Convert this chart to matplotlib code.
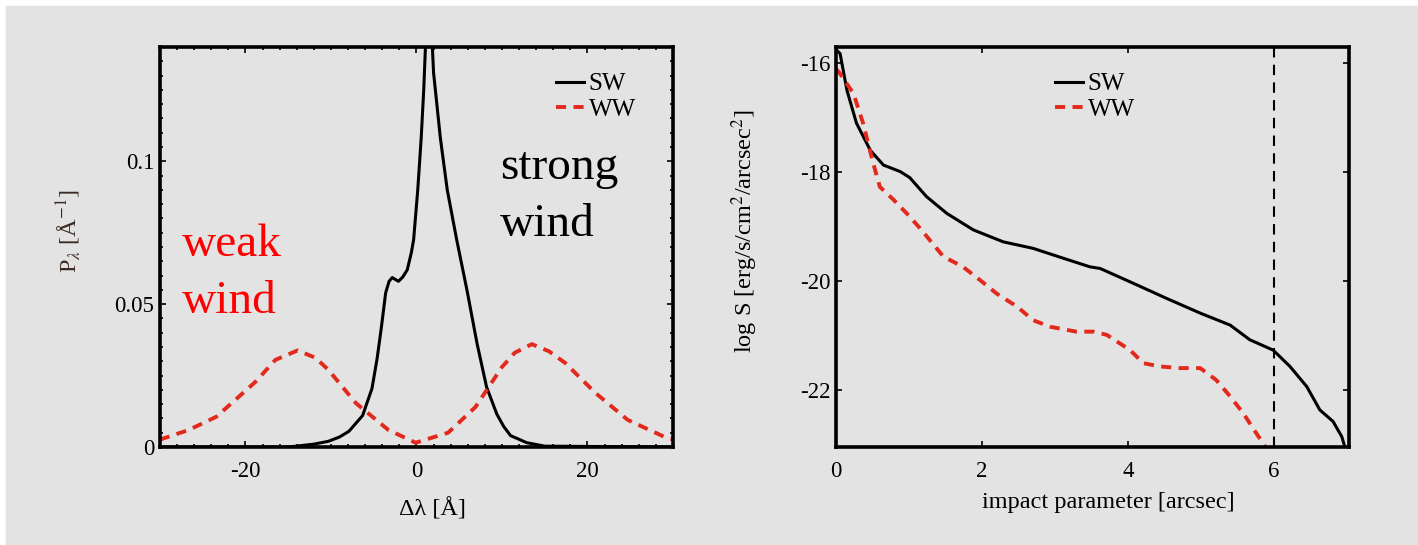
import matplotlib
matplotlib.use('Agg')
import matplotlib.pyplot as plt
from matplotlib.ticker import MultipleLocator, FormatStrFormatter

plt.rcParams['font.family'] = ['Liberation Serif', 'DejaVu Serif']
plt.rcParams['mathtext.fontset'] = 'stix'
plt.rcParams['axes.unicode_minus'] = False

RED = '#e3281c'
BG = '#e3e3e3'

# line profiles
dlam_sw = [-30, -15, -12, -10.3, -9.0, -7.9, -6.3, -5.2, -4.6, -4.1, -3.6, -3.2,
           -2.83, -2.4, -2.1, -1.6, -1.08, -0.6, -0.33, 0.15, 0.55, 0.85, 1.05,
           1.45, 1.86, 2.0, 2.8, 3.6, 4.7, 5.9, 7.1, 8.2, 9.4, 10.2, 11, 12.9,
           15, 30]
p_sw = [0, 0, 0.001, 0.002, 0.0035, 0.0055, 0.011, 0.0205, 0.031, 0.042,
        0.054, 0.058, 0.0593, 0.0585, 0.058, 0.0595, 0.062, 0.068, 0.0726,
        0.090, 0.108, 0.125, 0.14, 0.168, 0.14, 0.131, 0.108, 0.090, 0.0726,
        0.055, 0.036, 0.021, 0.0115, 0.0072, 0.004, 0.0015, 0.0003, 0]

dlam_ww = [-30, -29.6, -26.6, -23.4, -18.8, -16.5, -13.9, -11.8, -10.3, -7.1,
           -3.3, -0.1, 3.7, 6.9, 10, 11.5, 13.5, 15.5, 17.4, 20.9, 24.7, 29.4, 30]
p_ww = [0.0025, 0.003, 0.006, 0.0106, 0.0229, 0.0305, 0.0338, 0.0312, 0.027,
        0.0154, 0.006, 0.0015, 0.005, 0.014, 0.028, 0.033, 0.036, 0.0335,
        0.0294, 0.019, 0.0095, 0.003, 0.0027]

# surface brightness profiles
b_sw = [0.0, 0.055, 0.15, 0.28, 0.47, 0.65, 0.88, 1.01, 1.24, 1.52, 1.88, 2.29,
        2.70, 3.11, 3.48, 3.62, 4.07, 4.53, 4.99, 5.40, 5.67, 5.99, 6.22, 6.45,
        6.63, 6.81, 6.93, 6.97]
s_sw = [-15.75, -15.82, -16.5, -17.1, -17.6, -17.87, -17.99, -18.1, -18.45,
        -18.76, -19.06, -19.28, -19.40, -19.58, -19.74, -19.77, -20.04, -20.32,
        -20.59, -20.81, -21.08, -21.27, -21.57, -21.94, -22.37, -22.58, -22.86,
        -23.04]

b_ww = [0.0, 0.055, 0.24, 0.37, 0.51, 0.60, 0.79, 0.97, 1.15, 1.47, 1.74, 1.97,
        2.20, 2.48, 2.70, 2.93, 3.29, 3.53, 3.71, 4.03, 4.21, 4.44, 4.71, 4.99,
        5.21, 5.40, 5.58, 5.76, 5.88]
s_ww = [-16.1, -16.19, -16.56, -17.1, -17.84, -18.27, -18.51, -18.76, -19.03,
        -19.55, -19.74, -19.98, -20.23, -20.47, -20.72, -20.84, -20.93, -20.93,
        -20.99, -21.27, -21.51, -21.57, -21.60, -21.60, -21.82, -22.12, -22.43,
        -22.80, -23.04]

b_cut = 6


def style_axes(ax):
    ax.set_facecolor(BG)
    for s in ax.spines.values():
        s.set_linewidth(2.6)
    ax.tick_params(which='both', direction='in', top=True, right=True,
                   labelsize=16.5, width=1.2)
    ax.tick_params(which='major', length=4)
    ax.tick_params(which='minor', length=2)
    ax.tick_params(axis='x', which='major', pad=10)
    ax.tick_params(axis='y', which='major', pad=4)


fig = plt.figure(figsize=(14.18, 5.45), dpi=100)
fig.patch.set_facecolor('white')
fig.patches.append(plt.Rectangle((6 / 1418, 0), 1, 1 - 6 / 545,
                                 transform=fig.transFigure, color=BG, zorder=-10))

ax1 = fig.add_axes([0.1128, 0.1798, 0.3618, 0.734])
ax2 = fig.add_axes([0.5896, 0.1798, 0.3618, 0.734])

# left: line profiles
style_axes(ax1)
ax1.plot(dlam_sw, p_sw, color='black', lw=2.2, label='SW')
ax1.plot(dlam_ww, p_ww, color=RED, lw=2.8, dashes=(2.6, 1.9), label='WW')
ax1.set_xlim(-30, 30)
ax1.set_ylim(0, 0.14)
ax1.set_xticks([-20, 0, 20])
ax1.set_yticks([0, 0.05, 0.1])
ax1.yaxis.set_major_formatter(FormatStrFormatter('%g'))
ax1.xaxis.set_minor_locator(MultipleLocator(2))
ax1.yaxis.set_minor_locator(MultipleLocator(0.005))
ax1.set_xlabel('Δλ [Å]', fontsize=17.5)
ax1.set_ylabel(r'P$_\lambda$ [Å$^{-1}$]', fontsize=17.5, color='#3a2a22')
ax1.xaxis.set_label_coords(0.531, -0.128)
ax1.yaxis.set_label_coords(-0.15, 0.54)
ax1.legend(loc='upper left', bbox_to_anchor=(0.772, 0.935), frameon=False,
           fontsize=18, handlelength=1.1, handletextpad=0.2, borderpad=0,
           borderaxespad=0, labelspacing=0.12)
ax1.text(9.8, 0.0937, 'strong', fontsize=34, color='black', va='baseline')
ax1.text(9.8, 0.074, 'wind', fontsize=34, color='black', va='baseline')
ax1.text(-27.4, 0.0667, 'weak', fontsize=34, color='red', va='baseline')
ax1.text(-27.4, 0.047, 'wind', fontsize=34, color='red', va='baseline')

# right: surface brightness vs impact parameter
style_axes(ax2)
ax2.plot(b_sw, s_sw, color='black', lw=2.2, label='SW')
ax2.plot(b_ww, s_ww, color=RED, lw=2.8, dashes=(2.6, 1.9), label='WW')
ax2.axvline(b_cut, color='black', lw=1.5, dashes=(5, 3.5))
ax2.set_xlim(0, 7.03)
ax2.set_ylim(-23.05, -15.7)
ax2.set_xticks([0, 2, 4, 6])
ax2.set_yticks([-22, -20, -18, -16])
ax2.set_xlabel('impact parameter [arcsec]', fontsize=17.5)
ax2.set_ylabel(r'log S [erg/s/cm$^2$/arcsec$^2$]', fontsize=17.5)
ax2.xaxis.set_label_coords(0.53, -0.112)
ax2.yaxis.set_label_coords(-0.148, 0.54)
ax2.legend(loc='upper left', bbox_to_anchor=(0.427, 0.935), frameon=False,
           fontsize=18, handlelength=1.1, handletextpad=0.2, borderpad=0,
           borderaxespad=0, labelspacing=0.12)

fig.savefig('out.png', dpi=100, facecolor=fig.get_facecolor())
